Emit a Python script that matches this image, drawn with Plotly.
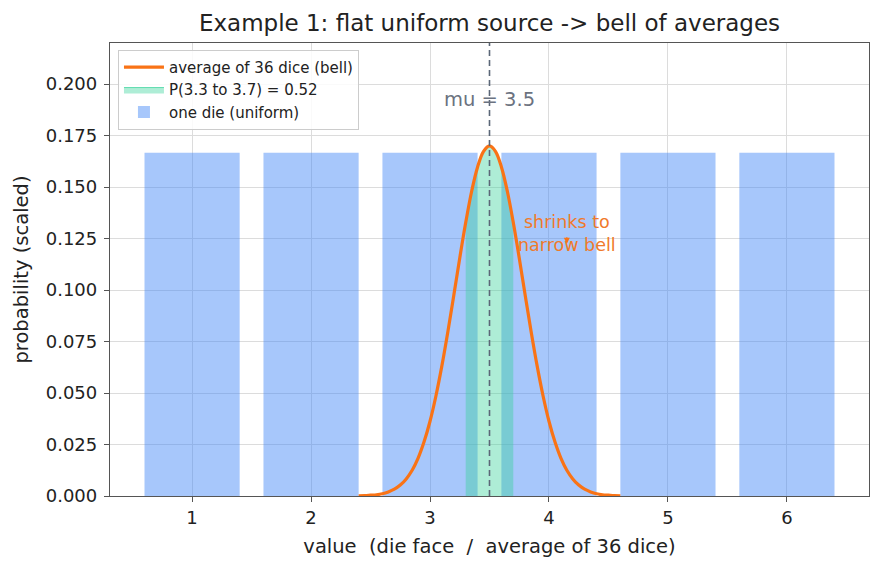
import plotly.graph_objects as go

# ---- data ----
faces = [1, 2, 3, 4, 5, 6]
die_prob = [0.1667, 0.1667, 0.1667, 0.1667, 0.1667, 0.1667]

bell_x = [2.40, 2.45, 2.50, 2.55, 2.60, 2.65, 2.70, 2.75, 2.80, 2.85, 2.90,
          2.95, 3.00, 3.05, 3.10, 3.15, 3.20, 3.25, 3.30, 3.35, 3.40, 3.45,
          3.50,
          3.55, 3.60, 3.65, 3.70, 3.75, 3.80, 3.85, 3.90, 3.95, 4.00, 4.05,
          4.10, 4.15, 4.20, 4.25, 4.30, 4.35, 4.40, 4.45, 4.50, 4.55, 4.60]
bell_y = [0.0001, 0.0002, 0.0004, 0.0006, 0.0011, 0.0020, 0.0033, 0.0053,
          0.0083, 0.0125, 0.0184, 0.0263, 0.0363, 0.0487, 0.0633, 0.0798,
          0.0975, 0.1156, 0.1328, 0.1480, 0.1598, 0.1674,
          0.1700,
          0.1674, 0.1598, 0.1480, 0.1328, 0.1156, 0.0975, 0.0798, 0.0633,
          0.0487, 0.0363, 0.0263, 0.0184, 0.0125, 0.0083, 0.0053, 0.0033,
          0.0020, 0.0011, 0.0006, 0.0004, 0.0002, 0.0001]

band_lo, band_hi = 3.3, 3.7
band_prob = 0.52
mu = 3.5

x_ticks = [1, 2, 3, 4, 5, 6]
y_ticks = [0.0, 0.025, 0.05, 0.075, 0.1, 0.125, 0.15, 0.175, 0.2]

band_x = [x for x in bell_x if band_lo - 1e-9 <= x <= band_hi + 1e-9]
band_y = [y for x, y in zip(bell_x, bell_y) if band_lo - 1e-9 <= x <= band_hi + 1e-9]

FONT = "DejaVu Sans"
ORANGE = "#f97316"

fig = go.Figure()

fig.add_trace(go.Bar(
    x=faces, y=die_prob, width=0.8,
    marker=dict(color="rgba(59,130,246,0.45)", line=dict(width=0)),
    name="one die (uniform)", legendrank=3,
))

fig.add_trace(go.Scatter(
    x=band_x, y=band_y, mode="lines", fill="tozeroy",
    fillcolor="rgba(52,211,153,0.40)",
    line=dict(color="rgba(52,211,153,0.9)", width=0.8, shape="spline"),
    name=f"P({band_lo} to {band_hi}) = {band_prob:.2f}", legendrank=2,
))

fig.add_trace(go.Scatter(
    x=bell_x, y=bell_y, mode="lines",
    line=dict(color=ORANGE, width=3.2, shape="spline"),
    name="average of 36 dice (bell)", legendrank=1,
))

fig.add_shape(type="line", x0=mu, x1=mu, y0=0, y1=1, xref="x", yref="paper",
              line=dict(color="#5b6677", width=1.6, dash="6px,4px"), layer="above")

fig.add_annotation(x=mu, y=0.1927, text=f"mu = {mu}", showarrow=False,
                   font=dict(family=FONT, size=19.5, color="#6b7280"))

fig.add_annotation(x=4.15, y=0.1277, text="shrinks to<br>narrow bell", showarrow=False,
                   font=dict(family=FONT, size=17.5, color="#f07a2a"))
fig.add_annotation(x=4.15, y=0.1225, ax=0, ay=-8, text="", showarrow=True,
                   arrowhead=2, arrowsize=1, arrowwidth=1.2, arrowcolor=ORANGE)

axis_common = dict(
    showgrid=True, gridcolor="#dcdcdc", gridwidth=0.8,
    showline=True, linecolor="#555555", linewidth=1.3, mirror=True,
    ticks="outside", ticklen=5, tickcolor="#555555", tickwidth=1.2,
    tickfont=dict(family=FONT, size=18, color="#222222"),
    zeroline=False, automargin=False,
)

fig.update_xaxes(range=[0.31, 6.69], tickvals=x_ticks, ticktext=[str(t) for t in x_ticks],
                 title=dict(text="value  (die face  /  average of 36 dice)",
                            font=dict(family=FONT, size=19.5, color="#222222"), standoff=12),
                 **axis_common)
fig.update_yaxes(range=[0, 0.22], tickvals=y_ticks, tickformat=".3f", ticklabelstandoff=3,
                 title=dict(text="probability (scaled)",
                            font=dict(family=FONT, size=19.5, color="#222222"), standoff=11),
                 **axis_common)

fig.update_layout(
    width=883, height=569,
    margin=dict(l=110, r=14, t=43, b=73),
    plot_bgcolor="white", paper_bgcolor="white",
    title=dict(text="Example 1: flat uniform source -> bell of averages",
               x=(110 + 869) / 2 / 883, xanchor="center",
               y=1 - 23 / 569, yanchor="middle",
               font=dict(family=FONT, size=23, color="#222222")),
    legend=dict(x=0.0105, y=0.985, xanchor="left", yanchor="top",
                bgcolor="rgba(255,255,255,0.85)", bordercolor="#cccccc", borderwidth=1,
                font=dict(family=FONT, size=15, color="#222222"),
                itemwidth=40, tracegroupgap=0),
    showlegend=True,
    bargap=0.2,
)

fig.write_html("out.html")
